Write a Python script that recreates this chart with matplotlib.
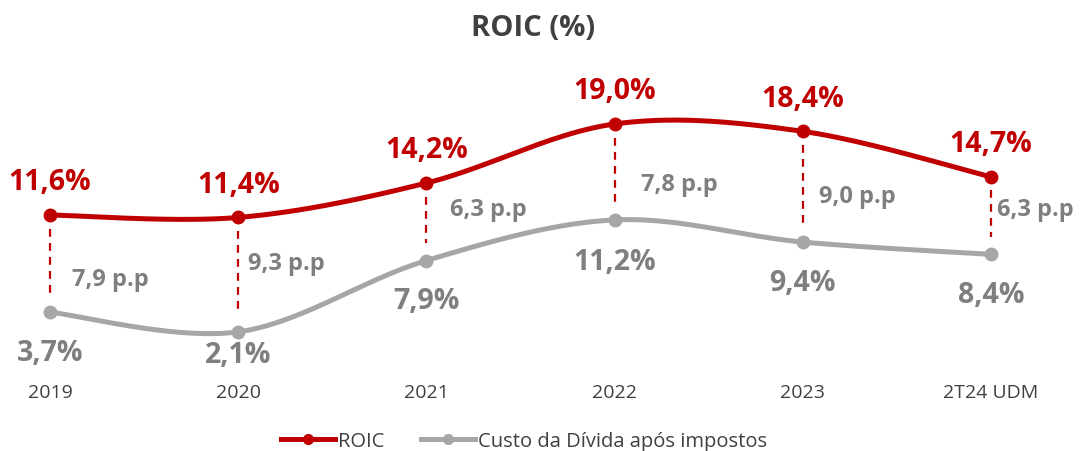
import numpy as np
import matplotlib
matplotlib.use("Agg")
import matplotlib.pyplot as plt
from matplotlib.lines import Line2D

plt.rcParams['font.family'] = ['Open Sans', 'DejaVu Sans']

# dados
categorias = ['2019', '2020', '2021', '2022', '2023', '2T24 UDM']
roic = [11.6, 11.4, 14.2, 19.0, 18.4, 14.7]
custo_divida = [3.7, 2.1, 7.9, 11.2, 9.4, 8.4]

VERMELHO = '#C00000'
CINZA_LINHA = '#A6A6A6'
CINZA_TEXTO = '#7F7F7F'
TEXTO = '#404040'


def fmt(v):
    return f'{v:.1f}'.replace('.', ',')


def suavizar(y, n=40):
    # curva suavizada tipo Excel (Catmull-Rom)
    y = np.asarray(y, dtype=float)
    x = np.arange(len(y), dtype=float)
    pts = np.column_stack([x, y])
    p = np.vstack([pts[0], pts, pts[-1]])
    out = []
    t = np.linspace(0, 1, n)[:, None]
    for i in range(1, len(p) - 2):
        p0, p1, p2, p3 = p[i - 1], p[i], p[i + 1], p[i + 2]
        c1 = p1 + (p2 - p0) / 6
        c2 = p2 - (p3 - p1) / 6
        seg = ((1 - t) ** 3) * p1 + 3 * ((1 - t) ** 2) * t * c1 + 3 * (1 - t) * t ** 2 * c2 + t ** 3 * p2
        out.append(seg if i == 1 else seg[1:])
    out = np.vstack(out)
    return out[:, 0], out[:, 1]


fig = plt.figure(figsize=(10.84, 4.52), dpi=100)
ax = fig.add_axes([0, 74 / 452, 1, 378 / 452])
x = np.arange(len(categorias))

xs, ys = suavizar(roic)
ax.plot(xs, ys, color=VERMELHO, lw=3.6, solid_capstyle='round', zorder=3)
ax.plot(x, roic, 'o', color=VERMELHO, ms=9, zorder=4)

xs, ys = suavizar(custo_divida)
ax.plot(xs, ys, color=CINZA_LINHA, lw=3.6, solid_capstyle='round', zorder=3)
ax.plot(x, custo_divida, 'o', color=CINZA_LINHA, ms=9, zorder=4)

# linhas tracejadas entre as séries
for i in range(len(x)):
    ax.plot([x[i], x[i]], [roic[i] - 1.1, custo_divida[i] + 1.4], color=VERMELHO,
            lw=1.6, linestyle=(0, (3.5, 2.8)), zorder=2)

# rótulos ROIC
for i, v in enumerate(roic):
    ax.annotate(fmt(v) + '%', (x[i], v), xytext=(0, 24),
                textcoords='offset points', ha='center', va='center',
                fontsize=20.5, fontweight='bold', color=VERMELHO)

# rótulos custo da dívida
desloc_custo = [-29, -16, -29, -30, -29, -29]
for i, v in enumerate(custo_divida):
    ax.annotate(fmt(v) + '%', (x[i], v), xytext=(0, desloc_custo[i]),
                textcoords='offset points', ha='center', va='center',
                fontsize=20.5, fontweight='bold', color=CINZA_TEXTO)

# diferença em p.p
pos_pp = [(0.32, 6.4), (0.255, 7.7), (0.33, 12.1), (0.345, 14.1), (0.29, 13.15), (0.234, 12.1)]
for i in range(len(x)):
    dif = roic[i] - custo_divida[i]
    dx, yy = pos_pp[i]
    ax.text(x[i] + dx, yy, fmt(dif) + ' p.p', ha='center', va='center',
            fontsize=17, fontweight='bold', color=CINZA_TEXTO)

ax.set_xlim(-0.266, 5.494)
ax.set_ylim(-1.57, 29.16)
ax.set_xticks(x)
ax.set_xticklabels(categorias, fontsize=14, color=TEXTO)
ax.tick_params(axis='x', length=0, pad=4)
ax.set_yticks([])
for s in ax.spines.values():
    s.set_visible(False)
ax.patch.set_alpha(0)

fig.text(533 / 1084, 1 - 28 / 452, 'ROIC (%)', ha='center', va='center',
         fontsize=21, fontweight='bold', color=TEXTO)

handles = [
    Line2D([], [], color=VERMELHO, lw=3.6, marker='o', ms=7),
    Line2D([], [], color=CINZA_LINHA, lw=3.6, marker='o', ms=7),
]
fig.legend(handles, ['ROIC', 'Custo da Dívida após impostos'], loc='center',
           bbox_to_anchor=(524 / 1084, 1 - 442 / 452), ncol=2, frameon=False,
           fontsize=14.5, handlelength=2.7, handletextpad=0.15, columnspacing=1.8,
           labelcolor=TEXTO)

fig.savefig('out.png', dpi=100)
